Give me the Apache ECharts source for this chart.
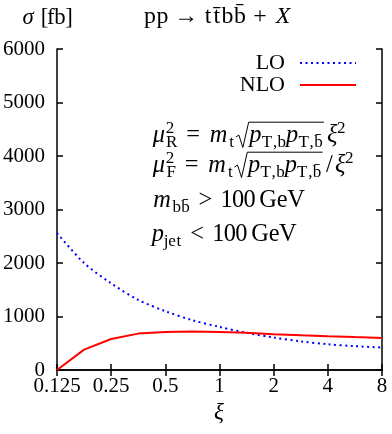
<!DOCTYPE html>
<html>
<head>
<meta charset="utf-8">
<script src="https://cdn.jsdelivr.net/npm/echarts@6/dist/echarts.min.js"></script>
<style>
html, body { margin: 0; padding: 0; background: #fff; }
#main { width: 392px; height: 434px; }
</style>
</head>
<body>
<div id="main"></div>
<script>
// scale factor xi (log2 axis) and cross sections in fb
var xi = [0.125, 0.1768, 0.25, 0.3536, 0.5, 0.7071, 1, 1.4142, 2, 2.8284, 4, 5.6569, 8];
var loValues = [2560, 2000, 1620, 1310, 1100, 930, 805, 695, 607, 535, 482, 445, 420];
var nloValues = [0, 380, 580, 680, 710, 720, 712, 695, 670, 650, 632, 615, 600];
var yMin = 0, yMax = 6000, yStep = 1000;
var seriesNames = ['LO', 'NLO'];

var FONT = '"Liberation Serif", "Times New Roman", serif';
var GLYPH = 1.06; // draw glyphs a bit larger than the TeX advance size
var ctx = document.createElement('canvas').getContext('2d');
function fontStr(size, it) { return (it ? 'italic ' : '') + size + 'px ' + FONT; }
function textW(s, size, it) { ctx.font = fontStr(size, it); return ctx.measureText(s).width; }

// glyph advances (em) of the TeX fonts, so the math keeps its original spacing
var CM_R = {'0': .5, '1': .5, '2': .5, 'G': .785, 'e': .444, 'V': .75, 'T': .722, 'b': .556, ',': .278,
    'j': .306, 't': .389, 'R': .736, 'F': .653, '=': .778, '>': .778, '<': .778, '/': .5, '+': .778,
    'p': .556, '[': .278, ']': .278, 'f': .306, '\u2192': 1.0, ' ': .333, '\u2009': .167};
var CM_I = {'\u03bc': .603, 'm': .878, 'p': .503, '\u03be': .438, 'X': .828, '\u03c3': .571};

function txt(x, y, s, size, it) {
    return {
        type: 'text', x: x, y: y, silent: true,
        style: { text: s, font: fontStr(size, it), fill: '#000', align: 'left', verticalAlign: 'middle' }
    };
}

function clusters(s) {
    var res = [];
    Array.from(s).forEach(function (c) {
        if (/[\u0300-\u036f]/.test(c) && res.length) res[res.length - 1] += c;
        else res.push(c);
    });
    return res;
}

function run(x, y, s, size, it, out) {
    var gs = size * GLYPH;
    clusters(s).forEach(function (c) {
        var tw = (it ? CM_I : CM_R)[c.charAt(0)];
        var aw = textW(c, gs, it);
        var w = tw ? tw * size : aw;
        if (out && c.trim()) out.push(txt(x + (w - aw) / 2, y, c, gs, it));
        x += w;
    });
    return x;
}

// lay out a line of "math" pieces at font size fs, returns end x
function layout(x0, y, items, out, fs) {
    fs = fs || 23;
    var ss = fs * 0.7;
    var x = x0;
    items.forEach(function (it) {
        if (it.sp) { x += it.sp * fs; return; }
        if (it.t) { x = run(x, y, it.t, fs, it.i, out); return; }
        if (it.sup || it.sub) {
            var w = 0;
            if (it.sup) w = run(x, y - fs * 0.34, it.sup, ss, false, out) - x;
            if (it.sub) w = Math.max(w, run(x, y + fs * 0.3, it.sub, ss, false, out) - x);
            x += w;
            return;
        }
        if (it.sqrt) {
            var x1 = x + fs * 0.6;
            var x2 = layout(x1 + 1, y, it.sqrt, out, fs);
            var top = y - fs * 0.6;
            if (out) out.push({
                type: 'polyline', silent: true,
                shape: { points: [[x + 1, y + 1], [x + 4, y - 1], [x + 8, y + fs * 0.5], [x1, top], [x2 + 1, top]] },
                style: { stroke: '#000', lineWidth: 1, fill: null }
            });
            x = x2 + 2;
        }
    });
    return x;
}

var graphics = [];
function centered(cx, y, items, fs) {
    var w = layout(0, y, items, null, fs);
    layout(cx - w / 2, y, items, graphics, fs);
}

centered(218, 17, [{t: 'pp'}, {sp: .278}, {t: '\u2192'}, {sp: .278}, {t: 'tt\u0304bb\u0304'}, {sp: .222}, {t: '+'}, {sp: .222}, {t: 'X', i: 1}], 22.5);
layout(22, 18, [{t: '\u03c3', i: 1}, {t: ' [fb]'}], graphics, 21.5);
centered(219, 413, [{t: '\u03be', i: 1}], 22);

var annX = 152;
var rel = .278;
layout(annX, 136, [{t: '\u03bc', i: 1}, {sup: '2', sub: 'R'}, {sp: rel}, {t: '='}, {sp: rel}, {t: 'm', i: 1}, {sub: 't'},
    {sqrt: [{t: 'p', i: 1}, {sub: 'T,b'}, {t: 'p', i: 1}, {sub: 'T,b\u0304'}]}, {sp: .1}, {t: '\u03be', i: 1}, {sup: '2'}], graphics);
layout(annX, 166, [{t: '\u03bc', i: 1}, {sup: '2', sub: 'F'}, {sp: rel}, {t: '='}, {sp: rel}, {t: 'm', i: 1}, {sub: 't'},
    {sqrt: [{t: 'p', i: 1}, {sub: 'T,b'}, {t: 'p', i: 1}, {sub: 'T,b\u0304'}]}, {t: '/'}, {t: '\u03be', i: 1}, {sup: '2'}], graphics);
layout(annX, 201, [{t: 'm', i: 1}, {sub: 'bb\u0304'}, {sp: rel}, {t: '>'}, {sp: rel}, {t: '100\u2009GeV'}], graphics);
layout(annX, 235, [{t: 'p', i: 1}, {sub: 'jet'}, {sp: rel}, {t: '<'}, {sp: rel}, {t: '100\u2009GeV'}], graphics);

function fmt(v) { return String(+(+v).toPrecision(4)); }

var axisCommon = {
    axisLine: { lineStyle: { color: '#000', width: 1.5 } },
    axisTick: { inside: true, length: 6, lineStyle: { color: '#000', width: 1.5 } },
    splitLine: { show: false }
};

var chart = echarts.init(document.getElementById('main'));
var option = {
    animation: false,
    textStyle: { fontFamily: FONT },
    grid: { left: 56, right: 10, top: 49, bottom: 64 },
    legend: {
        data: seriesNames,
        orient: 'vertical',
        right: 35,
        top: 52,
        align: 'right',
        padding: 0,
        itemGap: 0,
        itemWidth: 56,
        itemHeight: 22,
        itemStyle: { opacity: 0 },
        textStyle: { fontSize: 22, color: '#000', fontFamily: FONT, padding: [0, 10, 0, 0] }
    },
    xAxis: [
        Object.assign({
            type: 'log', logBase: 2, min: 0.125, max: 8, position: 'bottom',
            axisLabel: { fontSize: 21, color: '#000', margin: 6, formatter: fmt, fontFamily: FONT }
        }, axisCommon),
        Object.assign({
            type: 'log', logBase: 2, min: 0.125, max: 8, position: 'top',
            axisLabel: { show: false }
        }, axisCommon)
    ],
    yAxis: [
        Object.assign({
            type: 'value', min: yMin, max: yMax, interval: yStep, position: 'left',
            axisLabel: { fontSize: 21, color: '#000', margin: 12, fontFamily: FONT, formatter: fmt }
        }, axisCommon),
        Object.assign({
            type: 'value', min: yMin, max: yMax, interval: yStep, position: 'right',
            axisLabel: { show: false }
        }, axisCommon)
    ],
    graphic: graphics,
    series: [
        {
            name: 'LO', type: 'line', symbol: 'none', smooth: 0.3,
            data: xi.map(function (x, i) { return [x, loValues[i]]; }),
            lineStyle: { color: '#0000ff', width: 2, type: [2, 3.5] },
            itemStyle: { color: '#0000ff' }
        },
        {
            name: 'NLO', type: 'line', symbol: 'none',
            data: xi.map(function (x, i) { return [x, nloValues[i]]; }),
            lineStyle: { color: '#ff0000', width: 2 },
            itemStyle: { color: '#ff0000' }
        }
    ]
};
chart.setOption(option);
</script>
</body>
</html>
